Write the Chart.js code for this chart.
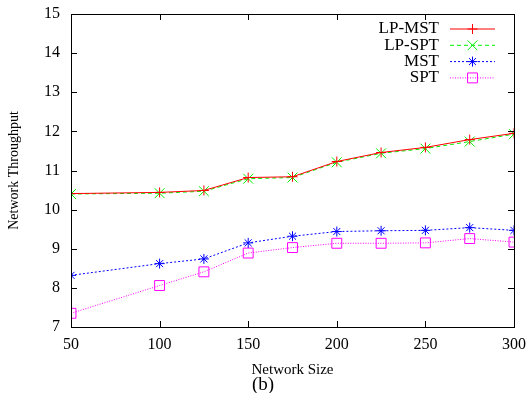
<!DOCTYPE html>
<html>
<head>
<meta charset="utf-8">
<script src="https://cdn.jsdelivr.net/npm/chart.js@4/dist/chart.umd.min.js"></script>
<style>
  html, body { margin: 0; padding: 0; background: #fff; }
  #wrap { width: 532px; height: 393px; }
</style>
</head>
<body>
<div id="wrap"><canvas id="chart" width="532" height="393"></canvas></div>
<script>
const networkSizes = [50, 100, 125, 150, 175, 200, 225, 250, 275, 300]
const lpMst = [10.41, 10.44, 10.49, 10.82, 10.84, 11.23, 11.46, 11.59, 11.79, 11.95]
const lpSpt = [10.40, 10.42, 10.47, 10.79, 10.82, 11.21, 11.44, 11.56, 11.74, 11.93]
const mst = [8.32, 8.62, 8.74, 9.15, 9.32, 9.44, 9.46, 9.47, 9.54, 9.47]
const spt = [7.35, 8.06, 8.41, 8.89, 9.03, 9.14, 9.14, 9.15, 9.26, 9.17]
const xTicks = [50, 100, 150, 200, 250, 300]
const yTicks = [7, 8, 9, 10, 11, 12, 13, 14, 15]

const serif = '"Liberation Serif", "DejaVu Serif", serif'

function pts(values) {
  return values.map((v, i) => ({ x: networkSizes[i], y: v }))
}

// gnuplot-style frame with inward ticks on all sides
const framePlugin = {
  id: 'frame',
  afterDraw(chart) {
    const { ctx, chartArea: a, scales } = chart
    const len = 6
    ctx.save()
    ctx.strokeStyle = '#000'
    ctx.lineWidth = 1
    ctx.beginPath()
    yTicks.forEach(t => {
      const y = Math.round(scales.y.getPixelForValue(t)) + 0.5
      ctx.moveTo(a.left, y); ctx.lineTo(a.left + len, y)
      ctx.moveTo(a.right, y); ctx.lineTo(a.right - len, y)
    })
    xTicks.forEach(t => {
      const x = Math.round(scales.x.getPixelForValue(t)) + 0.5
      ctx.moveTo(x, a.bottom); ctx.lineTo(x, a.bottom - len)
      ctx.moveTo(x, a.top); ctx.lineTo(x, a.top + len)
    })
    ctx.stroke()
    ctx.strokeRect(Math.round(a.left) + 0.5, Math.round(a.top) + 0.5,
      Math.round(a.right - a.left), Math.round(a.bottom - a.top))

    // caption under the axis title
    ctx.fillStyle = '#000'
    ctx.font = '19px ' + serif
    ctx.textAlign = 'left'
    ctx.textBaseline = 'middle'
    ctx.fillText('(b)', 252, 385)

    // legend: right-aligned text, sample line to the right
    ctx.font = '17px ' + serif
    chart.data.datasets.forEach((ds, i) => {
      const y = 29 + i * 16.3
      ctx.fillStyle = '#000'
      ctx.textAlign = 'right'
      ctx.fillText(ds.label, 439, y)
      ctx.strokeStyle = ds.borderColor
      ctx.lineWidth = 1
      ctx.setLineDash(ds.borderDash || [])
      ctx.beginPath()
      ctx.moveTo(450, y); ctx.lineTo(495, y)
      ctx.stroke()
      ctx.setLineDash([])
      ctx.fillStyle = 'rgba(0,0,0,0)'
      Chart.helpers.drawPoint(ctx, {
        pointStyle: ds.pointStyle, radius: ds.pointRadius,
        borderWidth: 1, rotation: 0
      }, 472.5, y)
    })
    ctx.restore()
  }
}

function series(label, data, color, dash, style, radius) {
  return {
    label,
    data: pts(data),
    borderColor: color,
    backgroundColor: 'rgba(0,0,0,0)',
    borderWidth: 1,
    borderDash: dash,
    pointStyle: style,
    pointRadius: radius,
    pointBorderWidth: 1,
    pointBorderColor: color,
    pointBackgroundColor: 'rgba(0,0,0,0)',
    tension: 0,
  }
}

new Chart(document.getElementById('chart').getContext('2d'), {
  type: 'line',
  data: {
    datasets: [
      series('LP-MST', lpMst, '#ff0000', [], 'cross', 5),
      series('LP-SPT', lpSpt, '#00ee00', [4, 3], 'crossRot', 7),
      series('MST', mst, '#0000ff', [2, 2], 'star', 5),
      series('SPT', spt, '#ff00ff', [1, 1.5], 'rect', 7),
    ],
  },
  options: {
    responsive: false,
    animation: false,
    layout: { padding: { left: 0, right: 18, top: 14, bottom: 0 } },
    plugins: { legend: { display: false }, tooltip: { enabled: false } },
    scales: {
      x: {
        type: 'linear',
        min: 50,
        max: 300,
        afterBuildTicks: s => { s.ticks = xTicks.map(v => ({ value: v })) },
        afterFit: s => { s.height = 66; s.paddingLeft = 0; s.paddingRight = 0 },
        grid: { display: false, drawTicks: false },
        border: { display: false },
        ticks: { color: '#000', font: { family: serif, size: 16 }, padding: 8, maxRotation: 0 },
        title: {
          display: true,
          text: 'Network Size',
          color: '#000',
          font: { family: serif, size: 15 },
          padding: { top: 0, bottom: 14 },
        },
      },
      y: {
        min: 7,
        max: 15,
        afterBuildTicks: s => { s.ticks = yTicks.map(v => ({ value: v })) },
        afterFit: s => { s.width = 71; s.paddingTop = 0; s.paddingBottom = 0 },
        grid: { display: false, drawTicks: false },
        border: { display: false },
        ticks: { color: '#000', font: { family: serif, size: 16 }, padding: 11 },
        title: {
          display: true,
          text: 'Network Throughput',
          color: '#000',
          font: { family: serif, size: 14 },
          padding: { top: 6, bottom: 0 },
        },
      },
    },
  },
  plugins: [framePlugin],
})
</script>
</body>
</html>
